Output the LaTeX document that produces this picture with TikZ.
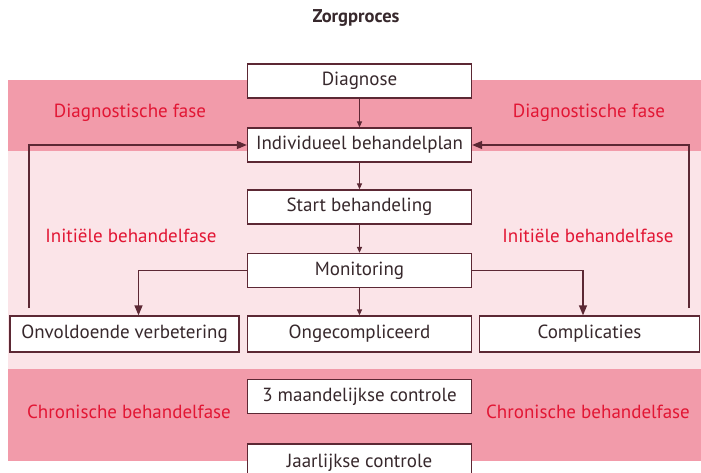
\documentclass[tikz,border=0pt]{standalone}
\usepackage{fontspec}
\setmainfont{PT Sans}
\usetikzlibrary{arrows.meta,positioning}
\definecolor{bandDark}{RGB}{242,155,170}
\definecolor{bandLight}{RGB}{251,228,232}
\definecolor{phaseRed}{RGB}{226,22,52}
\definecolor{lineBrown}{RGB}{92,40,52}
\definecolor{txtDark}{RGB}{55,40,44}
\tikzset{
  stepbox/.style={draw=lineBrown, line width=1.3pt, fill=white, text=txtDark,
    minimum height=34pt, inner sep=0pt, font=\fontsize{19}{21}\selectfont},
  phase/.style={text=phaseRed, font=\fontsize{19}{21}\selectfont},
  flow/.style={draw=lineBrown, line width=1.3pt, -{Triangle[length=6pt,width=5pt]}},
  branch/.style={draw=lineBrown, line width=1.3pt, -{Triangle[length=10pt,width=8pt]}},
}
\begin{document}
\begin{tikzpicture}[x=1pt,y=-1pt]
\useasboundingbox (0,0) rectangle (701,473);
\clip (0,0) rectangle (701,473);
% phase bands
\fill[bandDark] (8,80) rectangle (701,151);
\fill[bandLight] (8,151) rectangle (701,369);
\fill[bandDark] (8,369) rectangle (701,461);

% title
\node[text=txtDark, font=\fontsize{18.5}{20}\selectfont\bfseries] (title) at (356,18) {Zorgproces};

% process steps
\node[stepbox, minimum width=224pt] (diag) at (359.5,81) {Diagnose};
\node[stepbox, minimum width=224pt] (plan) at (359.5,145) {Individueel behandelplan};
\node[stepbox, minimum width=224pt] (start) at (359.5,207) {Start behandeling};
\node[stepbox, minimum width=224pt] (mon) at (359.5,270.5) {Monitoring};
\node[stepbox, minimum width=229pt, minimum height=36pt] (onv) at (124.5,334) {Onvoldoende verbetering};
\node[stepbox, minimum width=224pt, minimum height=36pt] (ong) at (359.5,334) {Ongecompliceerd};
\node[stepbox, minimum width=220pt, minimum height=36pt] (comp) at (589.5,334) {Complicaties};
\node[stepbox, minimum width=224pt] (maand) at (359.5,396.5) {3 maandelijkse controle};
\node[stepbox, minimum width=224pt, minimum height=38pt] (jaar) at (359.5,463) {Jaarlijkse controle};

% phase labels
\node[phase] (dl) at (130,113) {Diagnostische fase};
\node[phase] (dr) at (589,113) {Diagnostische fase};
\node[phase] (il) at (131,236) {Initiële behandelfase};
\node[phase] (ir) at (588,236) {Initiële behandelfase};
\node[phase] (cl) at (129,412) {Chronische behandelfase};
\node[phase] (cr) at (588,412) {Chronische behandelfase};

% main flow
\draw[flow] (diag) -- (plan);
\draw[flow] (plan) -- (start);
\draw[flow] (start) -- (mon);
\draw[flow] (mon) -- (ong);

% branches from monitoring
\draw[branch] (mon.west) -| (onv.north -| 138.5,0);
\draw[branch] (mon.east) -| (comp.north -| 583,0);

% feedback loops to the treatment plan
\coordinate (fbl) at (29,308);
\coordinate (fbr) at (689,308);
\draw[branch] (fbl) |- (plan.west);
\draw[branch] (fbr) |- (plan.east);
\end{tikzpicture}
\end{document}
